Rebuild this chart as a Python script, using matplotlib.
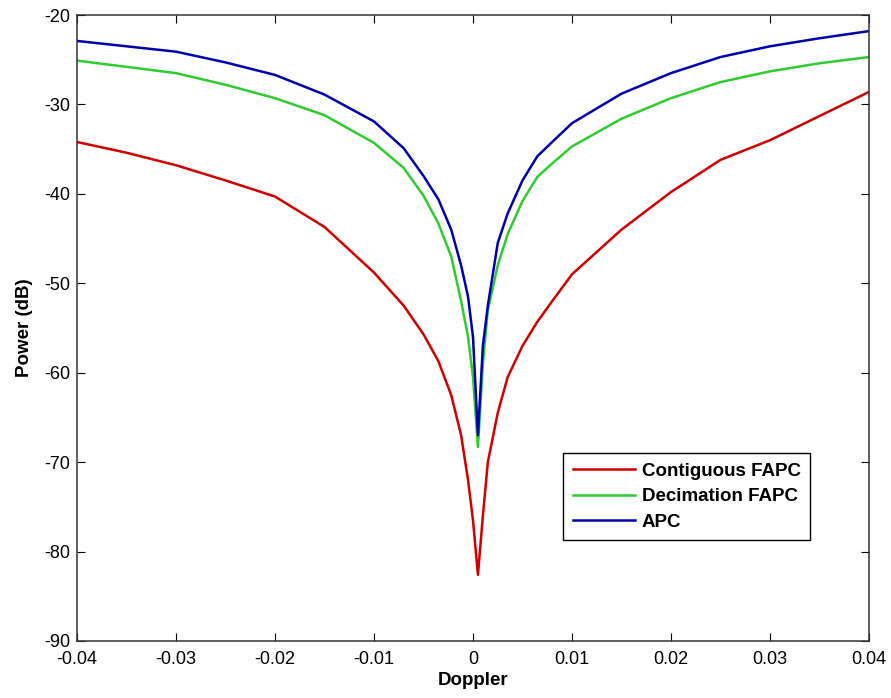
import numpy as np
import matplotlib
matplotlib.use('Agg')
import matplotlib.pyplot as plt

# Doppler axis
doppler = [-0.04, -0.035, -0.03, -0.025, -0.02, -0.015, -0.01, -0.007, -0.005,
           -0.0035, -0.0022, -0.0012, -0.0005, 0.0, 0.0005, 0.001, 0.0015,
           0.0025, 0.0035, 0.005, 0.0065, 0.008, 0.01, 0.015, 0.02, 0.025,
           0.03, 0.035, 0.04]

contiguous_fapc = [-34.2, -35.4, -36.8, -38.5, -40.3, -43.7, -48.8, -52.5, -55.7,
                   -58.7, -62.5, -67.0, -72.0, -76.5, -82.6, -76.0, -70.0,
                   -64.5, -60.5, -57.0, -54.3, -52.0, -49.0, -44.0, -39.8, -36.2,
                   -34.0, -31.3, -28.6]

decimation_fapc = [-25.1, -25.8, -26.5, -27.8, -29.3, -31.2, -34.3, -37.1, -40.2,
                   -43.3, -47.0, -52.0, -56.0, -60.5, -68.3, -59.0, -53.0,
                   -48.0, -44.5, -40.8, -38.1, -36.6, -34.7, -31.6, -29.3, -27.5,
                   -26.3, -25.4, -24.7]

apc = [-22.9, -23.5, -24.1, -25.3, -26.7, -28.9, -31.9, -34.9, -38.0,
       -40.6, -44.0, -48.0, -51.5, -56.0, -67.0, -57.0, -52.5,
       -45.5, -42.2, -38.5, -35.8, -34.2, -32.1, -28.8, -26.5, -24.7,
       -23.5, -22.6, -21.8]

xtick_labels = ['-0.04', '-0.03', '-0.02', '-0.01', '0', '0.01', '0.02', '0.03', '0.04']

plt.rcParams['font.family'] = ['Liberation Sans', 'DejaVu Sans']
plt.rcParams['axes.unicode_minus'] = False

fig = plt.figure(figsize=(8.91, 6.98), dpi=100)
ax = fig.add_axes([0.0864, 0.0817, 0.8889, 0.8968])

ax.plot(doppler, contiguous_fapc, color='#d00000', lw=1.8, label='Contiguous FAPC')
ax.plot(doppler, decimation_fapc, color='#2ecc2e', lw=1.8, label='Decimation FAPC')
ax.plot(doppler, apc, color='#0000b0', lw=1.8, label='APC')

ax.set_xlim(-0.04, 0.04)
ax.set_ylim(-90, -20)
ax.set_xticks(np.linspace(-0.04, 0.04, 9))
ax.set_xticklabels(xtick_labels)
ax.set_yticks(np.arange(-90, -19, 10))
ax.tick_params(direction='in', top=True, right=True, length=6, labelsize=13)
ax.tick_params(axis='x', pad=7)
ax.tick_params(axis='y', pad=5)
for s in ax.spines.values():
    s.set_linewidth(1.1)
    s.set_color('#333333')

ax.set_xlabel('Doppler', fontsize=13.5, fontweight='bold', labelpad=3)
ax.set_ylabel('Power (dB)', fontsize=13.5, fontweight='bold', labelpad=8)

leg = ax.legend(loc='upper left', bbox_to_anchor=(0.614, 0.30), borderaxespad=0,
                fancybox=False, edgecolor='black', framealpha=1,
                prop={'weight': 'bold', 'size': 13.5},
                handlelength=3.3, handletextpad=0.4, borderpad=0.5, labelspacing=0.45)
leg.get_frame().set_linewidth(1)

fig.savefig('out.png', dpi=100)
